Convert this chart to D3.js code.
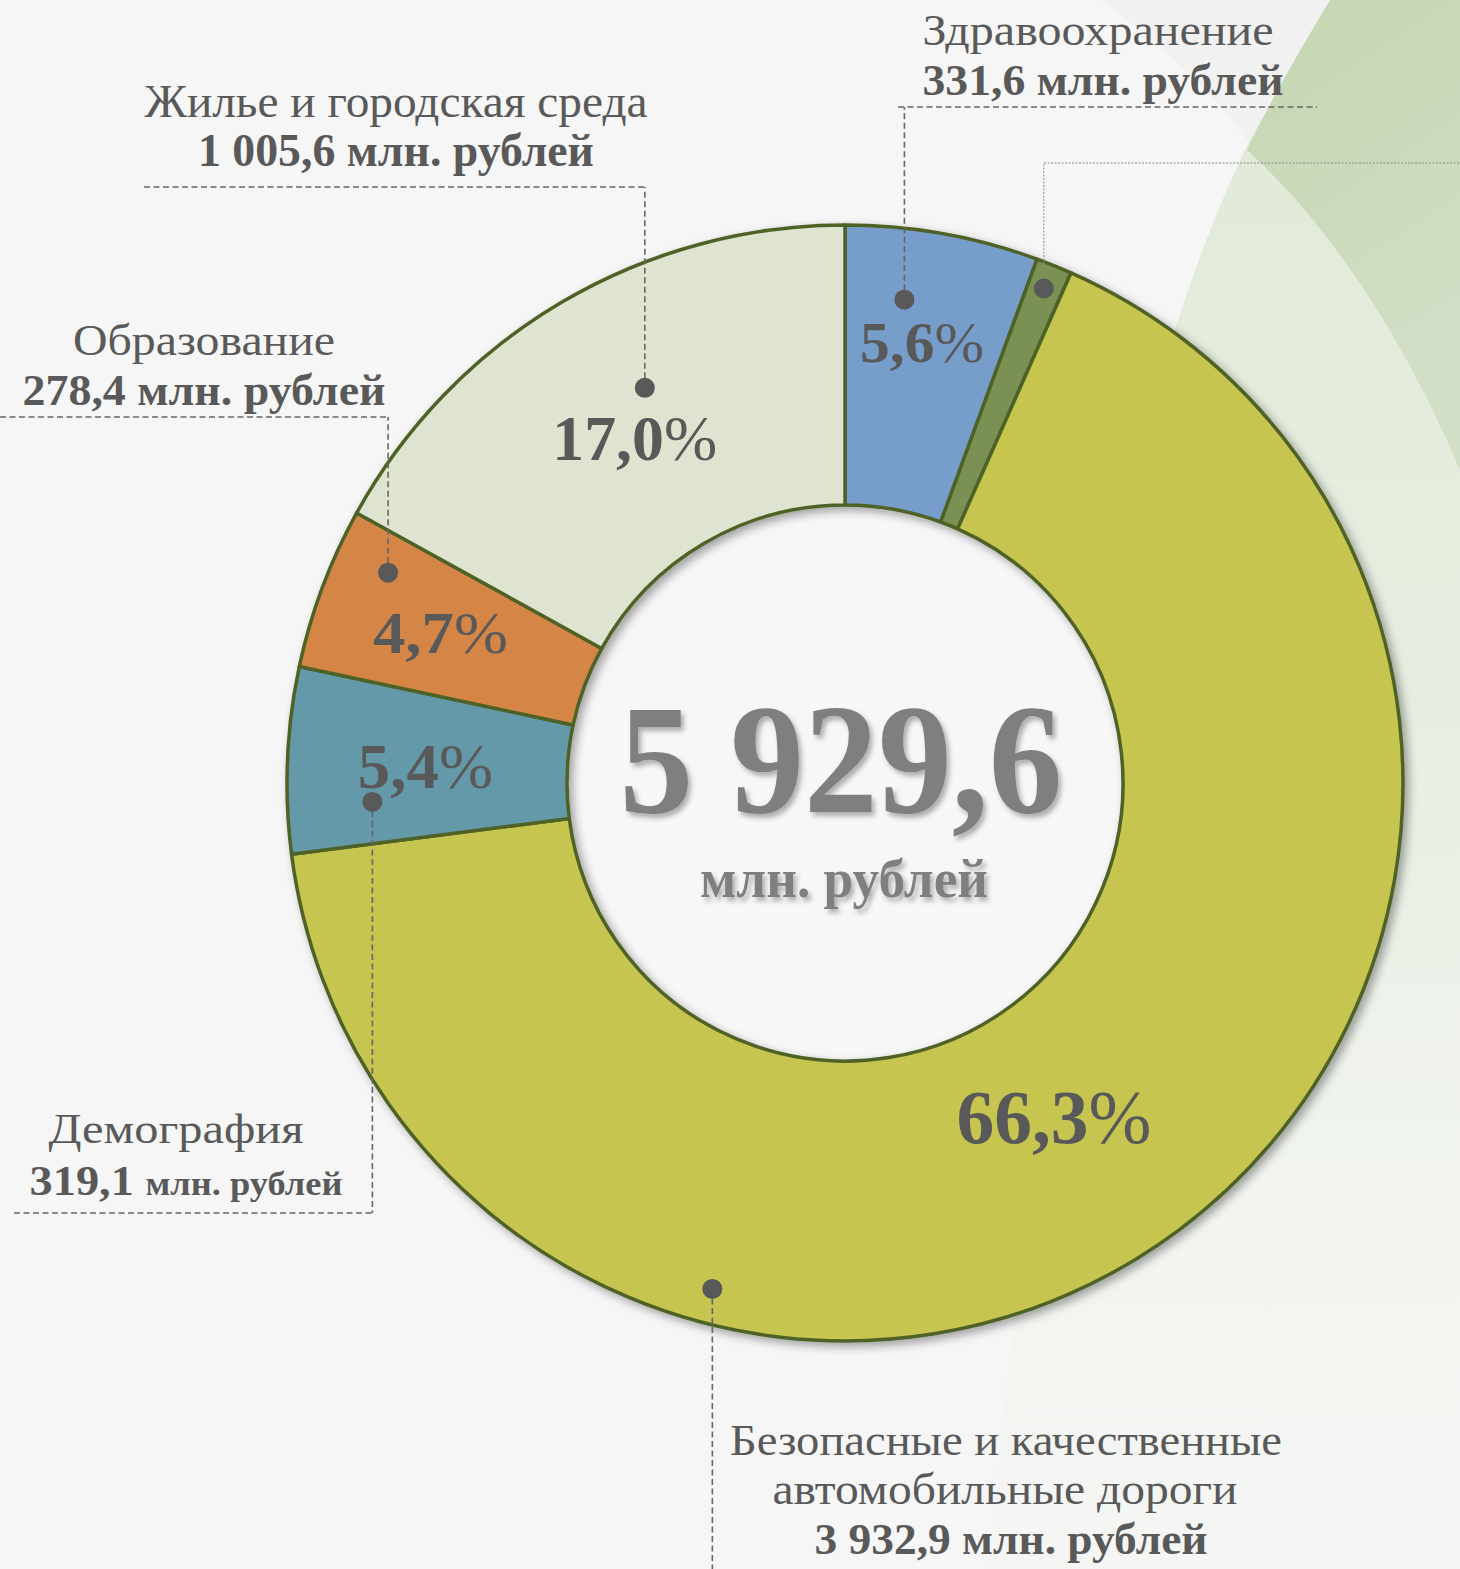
<!DOCTYPE html>
<html>
<head>
<meta charset="utf-8">
<script src="https://cdn.jsdelivr.net/npm/d3@7"></script>
<style>
  body { margin: 0; background: #f6f6f6; }
  svg { display: block; }
</style>
</head>
<body>
<div id="chart"></div>
<script>
// budget by national project, mln roubles (clockwise from 12 o'clock)
const categories = ["Здравоохранение", "Экология", "Безопасные и качественные автомобильные дороги", "Демография", "Образование", "Жилье и городская среда"];
const values = [331.6, 62.0, 3932.9, 319.1, 278.4, 1005.6];
const colors = ["#779dcb", "#7a9152", "#c6c550", "#6399a8", "#d58646", "#dfe4d1"];
const unit = "млн. рублей";

// where each callout sits (same order as categories)
const layout = [
  { lines: [{ words: 1, x: 1098, y: 45, w: 351, size: 45 }],
    value: { x: 1103, y: 95, w: 361, size: 45 },
    dotT: 0.348, dotR: 487, rule: { y: 107, x0: 898, x1: 1317 },
    pct: { dx: 4, dy: -9, w: 124, size: 56 } },
  { lines: [], value: null,
    dotT: 0.47, dotR: 533, rule: { y: 163, x0: 1044, x1: 1460, fine: true },
    pct: null },
  { lines: [{ words: 3, x: 1006, y: 1455, w: 552, size: 45 },
            { words: 2, x: 1005, y: 1504, w: 465, size: 45 }],
    value: { x: 1011, y: 1554, w: 393, size: 45 },
    dotT: 0.7153, dotR: 523, rule: { y: 1569, x0: 712, x1: 712 },
    pct: { dx: -41, dy: 25, w: 195, size: 77 } },
  { lines: [{ words: 1, x: 176, y: 1143, w: 255, size: 42 }],
    value: { x: 186, y: 1195, w: 313, size: 42, unitSize: 33 },
    dotT: 0.26, dotR: 473, rule: { y: 1213, x0: 14, x1: 372 },
    pct: { dx: -2, dy: 22, w: 135, size: 64 } },
  { lines: [{ words: 1, x: 204, y: 355, w: 262, size: 45 }],
    value: { x: 204, y: 405, w: 363, size: 45 },
    dotT: 0.75, dotR: 503, rule: { y: 417, x0: 0, x1: 388 },
    pct: { dx: -13, dy: 16, w: 135, size: 60 } },
  { lines: [{ words: 4, x: 396, y: 117, w: 503, size: 46 }],
    value: { x: 396, y: 166, w: 396, size: 46 },
    dotT: 0.56, dotR: 443, rule: { y: 187, x0: 144, x1: 645 },
    pct: { dx: 2, dy: 37, w: 165, size: 64 } }
];

const width = 1460, height = 1569;
const cx = 845, cy = 783, outerR = 558, innerR = 278;
const textColor = "#595959";
const font = "'Liberation Serif', 'DejaVu Serif', serif";

const ru = d3.formatLocale({ decimal: ",", thousands: " ", grouping: [3], currency: ["", ""] });
const fmt = ru.format(",.1f");
const total = d3.sum(values);

const svg = d3.select("#chart").append("svg")
    .attr("width", width)
    .attr("height", height)
    .attr("font-family", font);

const defs = svg.append("defs");
defs.append("filter").attr("id", "ringShadow")
    .attr("x", "-10%").attr("y", "-10%").attr("width", "120%").attr("height", "120%")
  .append("feDropShadow")
    .attr("dx", 4).attr("dy", 4).attr("stdDeviation", 5)
    .attr("flood-color", "#000").attr("flood-opacity", 0.35);
defs.append("filter").attr("id", "textShadow")
    .attr("x", "-10%").attr("y", "-20%").attr("width", "120%").attr("height", "140%")
  .append("feDropShadow")
    .attr("dx", 3).attr("dy", 4).attr("stdDeviation", 2.5)
    .attr("flood-color", "#000").attr("flood-opacity", 0.3);

const gLight = defs.append("linearGradient").attr("id", "leafLight")
    .attr("x1", 0).attr("y1", 0).attr("x2", 0).attr("y2", 1);
gLight.append("stop").attr("offset", "0%").attr("stop-color", "#e0e9d7");
gLight.append("stop").attr("offset", "45%").attr("stop-color", "#e7eee1");
gLight.append("stop").attr("offset", "75%").attr("stop-color", "#f1f4ef");
gLight.append("stop").attr("offset", "100%").attr("stop-color", "#f5f6f4");
const gDark = defs.append("linearGradient").attr("id", "leafDark")
    .attr("x1", 0).attr("y1", 0).attr("x2", 0.3).attr("y2", 1);
gDark.append("stop").attr("offset", "0%").attr("stop-color", "#c5d6b0");
gDark.append("stop").attr("offset", "100%").attr("stop-color", "#d3dec7");

// background decoration (leaf shapes on the right)
svg.append("rect").attr("width", width).attr("height", height).attr("fill", "#f6f6f6");
svg.append("path")
    .attr("d", "M1100,0 C1170,50 1220,100 1250,145 L1330,0 Z")
    .attr("fill", "#f1f1f1");
svg.append("path")
    .attr("d", "M1250,140 C1195,250 1140,420 1110,600 C1070,850 1020,1200 990,1569 L1460,1569 L1460,0 L1330,0 Z")
    .attr("fill", "url(#leafLight)");
svg.append("path")
    .attr("d", "M1330,0 C1300,50 1268,105 1247,150 C1330,225 1405,340 1460,470 L1460,0 Z")
    .attr("fill", "url(#leafDark)");

// donut
const pie = d3.pie().sort(null).value(d => d)(values);
const arc = d3.arc().innerRadius(innerR).outerRadius(outerR);

const ring = svg.append("g")
    .attr("transform", `translate(${cx},${cy})`);

// the hole is plain light paper
ring.append("circle")
    .attr("r", innerR)
    .attr("fill", "#f7f7f7");

ring.append("g")
    .attr("filter", "url(#ringShadow)")
  .selectAll("path")
  .data(pie)
  .join("path")
    .attr("d", arc)
    .attr("fill", (d, i) => colors[i])
    .attr("stroke", "#4f6228")
    .attr("stroke-width", 3.5)
    .attr("stroke-linejoin", "round");

// percent labels
const pctFmt = ru.format(".1f");
const pctG = svg.append("g").attr("transform", `translate(${cx},${cy})`);
pie.forEach((d, i) => {
  const L = layout[i].pct;
  if (!L) return;
  const [x, y] = arc.centroid(d);
  const t = pctG.append("text")
      .attr("x", x + L.dx)
      .attr("y", y + L.dy)
      .attr("text-anchor", "middle")
      .attr("font-weight", "bold")
      .attr("font-size", L.size)
      .attr("fill", textColor)
      .attr("textLength", L.w)
      .attr("lengthAdjust", "spacingAndGlyphs");
  t.append("tspan").text(pctFmt(values[i] / total * 100));
  t.append("tspan").attr("font-weight", "normal").text("%");
});

// leader lines and dots
const lead = svg.append("g");
pie.forEach((d, i) => {
  const L = layout[i];
  const a = d.startAngle + L.dotT * (d.endAngle - d.startAngle);
  const px = cx + L.dotR * Math.sin(a);
  const py = cy - L.dotR * Math.cos(a);
  const style = L.rule.fine
    ? { w: 1, dash: "2,1.5", c: "#8a8a8a" }
    : { w: 1.6, dash: "6,3.5", c: "#666" };
  lead.append("path")
      .attr("d", `M${px},${py}V${L.rule.y}` + (L.rule.x0 !== L.rule.x1 ? `M${L.rule.x0},${L.rule.y}H${L.rule.x1}` : ""))
      .attr("fill", "none")
      .attr("stroke", style.c)
      .attr("stroke-width", style.w)
      .attr("stroke-dasharray", style.dash);
  lead.append("circle")
      .attr("cx", px).attr("cy", py).attr("r", 10)
      .attr("fill", textColor);
});

// callout texts
const labels = svg.append("g").attr("fill", textColor).attr("text-anchor", "middle");
categories.forEach((name, i) => {
  const L = layout[i];
  const words = name.split(" ");
  let k = 0;
  L.lines.forEach(line => {
    labels.append("text")
        .attr("x", line.x).attr("y", line.y)
        .attr("font-size", line.size)
        .attr("textLength", line.w)
        .attr("lengthAdjust", "spacingAndGlyphs")
        .text(words.slice(k, k + line.words).join(" "));
    k += line.words;
  });
  if (L.value) {
    const t = labels.append("text")
        .attr("x", L.value.x).attr("y", L.value.y)
        .attr("font-size", L.value.size)
        .attr("font-weight", "bold")
        .attr("textLength", L.value.w)
        .attr("lengthAdjust", "spacingAndGlyphs");
    t.append("tspan").text(fmt(values[i]) + " ");
    t.append("tspan").attr("font-size", L.value.unitSize || L.value.size).text(unit);
  }
});

// total in the middle
const mid = svg.append("g")
    .attr("fill", "#7f7f7f")
    .attr("font-weight", "bold")
    .attr("text-anchor", "middle")
    .attr("filter", "url(#textShadow)");
mid.append("text")
    .attr("x", 841).attr("y", 812)
    .attr("font-size", 156)
    .attr("textLength", 443)
    .attr("lengthAdjust", "spacingAndGlyphs")
    .text(fmt(total));
mid.append("text")
    .attr("x", 844).attr("y", 897)
    .attr("font-size", 54)
    .attr("textLength", 288)
    .attr("lengthAdjust", "spacingAndGlyphs")
    .text(unit);
</script>
</body>
</html>
